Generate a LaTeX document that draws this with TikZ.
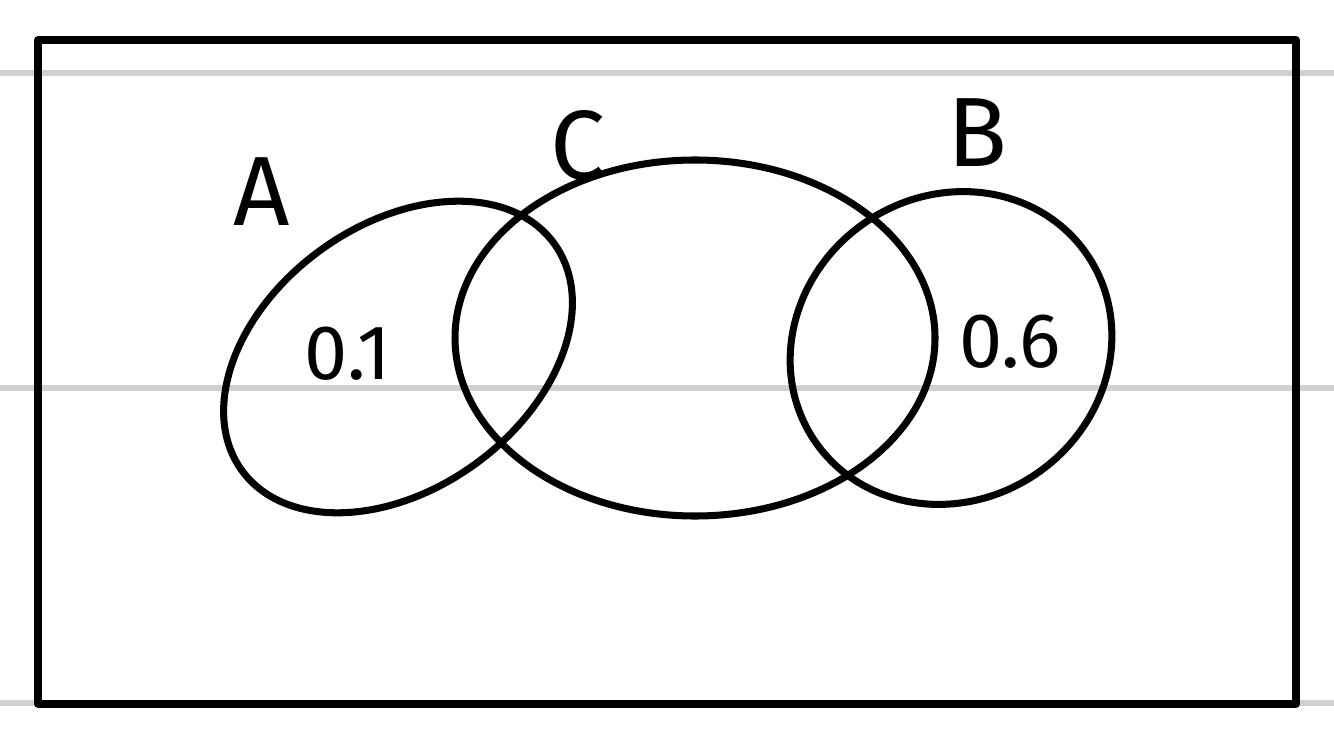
\documentclass[tikz,border=0pt]{standalone}
\usepackage{fontspec}
\setmainfont{Fira Sans}
\begin{document}
\begin{tikzpicture}[x=0.01cm,y=0.01cm,
  guide/.style={line width=1.6pt,color=black!18},
  frame/.style={line width=2.1pt,line join=round},
  set/.style={line width=2pt},
  lbl/.style={font=\fontsize{28}{28}\selectfont},
  val/.style={font=\fontsize{22}{22}\selectfont}]
\useasboundingbox (0,0) rectangle (1334,742);
\fill[white] (0,0) rectangle (1334,742);
% ruled guide lines
\draw[guide] (0,669) -- (1334,669);
\draw[guide] (0,354) -- (1334,354);
\draw[guide] (0,39) -- (1334,39);
% frame
\draw[frame,fill=none] (38,38) rectangle (1296,702);
% sets
\draw[set] (398,385) ellipse[x radius=193,y radius=132,rotate=36];
\draw[set] (695,404) ellipse[x radius=240,y radius=178];
\draw[set] (951,394) ellipse[x radius=165,y radius=152,rotate=35];
% labels
\node[lbl] (la) at (262,550) {A};
\node[lbl] (lc) at (578,596) {C};
\node[lbl] (lb) at (977,609) {B};
\node[val] (v1) at (348,388) {0.1};
\node[val] (v6) at (1010,400) {0.6};
\end{tikzpicture}
\end{document}
